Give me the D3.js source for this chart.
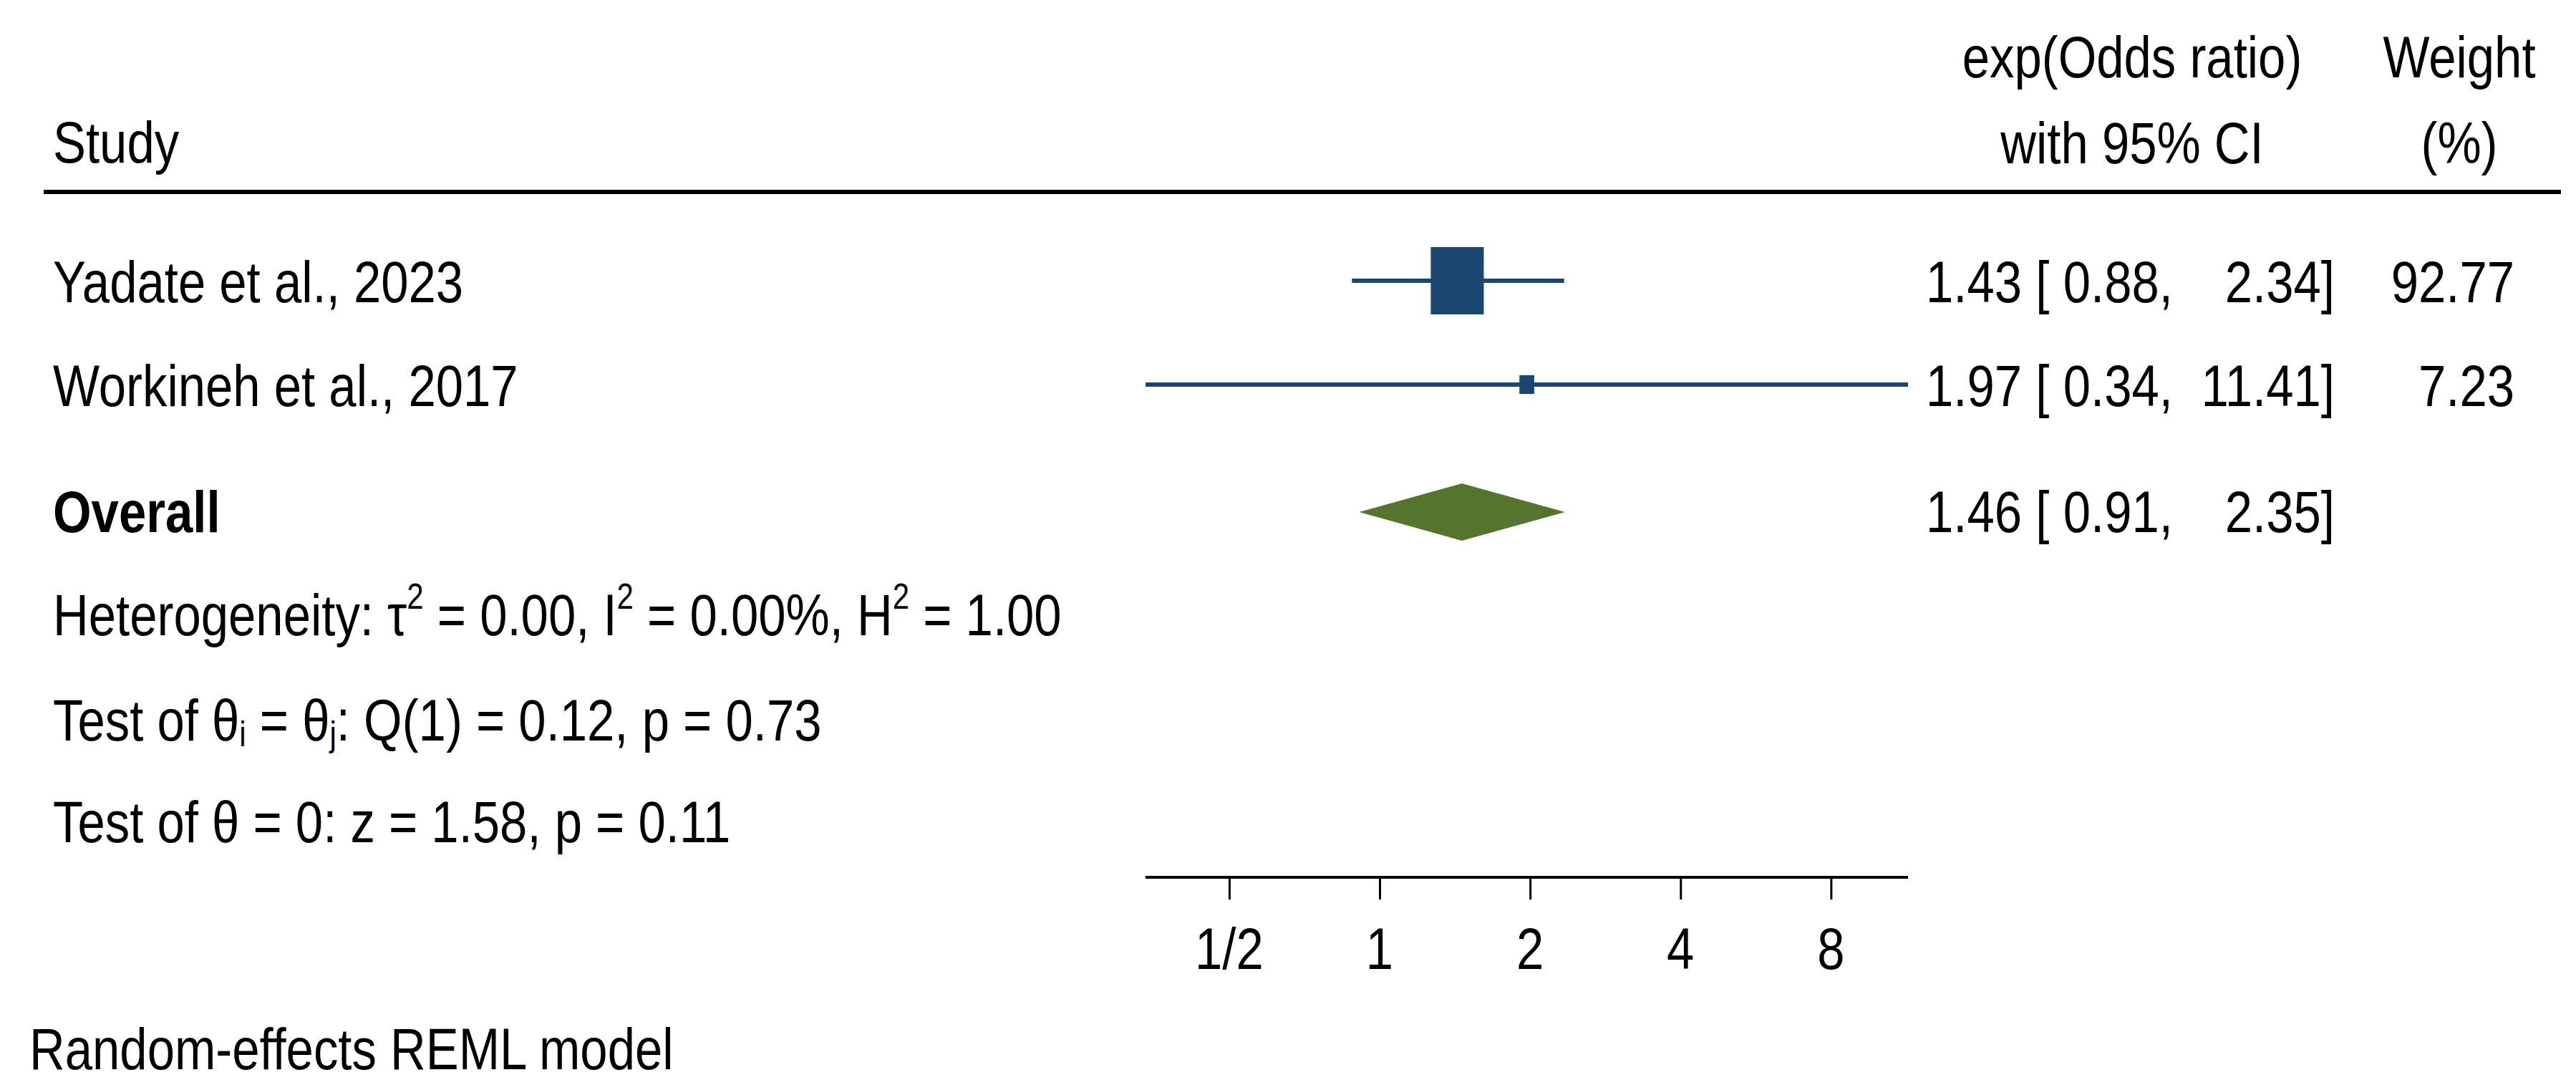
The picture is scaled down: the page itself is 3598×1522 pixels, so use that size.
<!DOCTYPE html>
<html>
<head>
<meta charset="utf-8">
<script src="https://cdn.jsdelivr.net/npm/d3@7"></script>
<style>
  html, body { margin: 0; padding: 0; background: #fff; }
  svg { display: block; font-family: "Liberation Sans", Arial, sans-serif; }
</style>
</head>
<body>
<div id="chart"></div>
<script>
const studies = ["Yadate et al., 2023", "Workineh et al., 2017"];
const estimates = [1.43, 1.97];
const lowers = [0.88, 0.34];
const uppers = [2.34, 11.41];
const weights = [92.77, 7.23];
const overall = { est: 1.46, lo: 0.91, hi: 2.35 };
const tickValues = [0.5, 1, 2, 4, 8];
const tickLabels = ["1/2", "1", "2", "4", "8"];

const width = 3598, height = 1522;
const navy = "#1a476f", olive = "#55752f";
const fs = 82, sx = 0.84;

const svg = d3.select("#chart").append("svg")
  .attr("width", width).attr("height", height);

const x = d3.scaleLog().base(2).domain([0.34, 11.41]).range([1600, 2665]);
const boxW = d3.scaleSqrt().domain([0, 92.77]).range([0, 74]);
const rowY = d3.scalePoint().domain(studies.concat(["Overall"])).range([392, 715]);
rowY.domain(studies.concat(["Overall"]));
const yOf = k => ({ "Yadate et al., 2023": 392, "Workineh et al., 2017": 537, "Overall": 715 })[k];

function txt(px, py, s, anchor, bold) {
  return svg.append("text")
    .attr("transform", `translate(${px},${py}) scale(${sx},1)`)
    .attr("text-anchor", anchor || "start")
    .attr("font-size", fs)
    .attr("font-weight", bold ? "bold" : "normal")
    .attr("fill", "#000")
    .text(s);
}

// headers
txt(74, 227, "Study");
txt(2978, 108, "exp(Odds ratio)", "middle");
txt(2978, 228, "with 95% CI", "middle");
txt(3435, 108, "Weight", "middle");
txt(3435, 228, "(%)", "middle");
svg.append("line").attr("x1", 61).attr("x2", 3577).attr("y1", 268).attr("y2", 268)
  .attr("stroke", "#000").attr("stroke-width", 6);

// studies
studies.forEach((s, i) => {
  const cy = yOf(s);
  txt(74, cy + 30, s);
  svg.append("line").attr("x1", x(lowers[i])).attr("x2", x(uppers[i]))
    .attr("y1", cy).attr("y2", cy).attr("stroke", navy).attr("stroke-width", 6);
  const w = boxW(weights[i]), h = w * 1.27;
  svg.append("rect").attr("x", x(estimates[i]) - w / 2).attr("y", cy - h / 2)
    .attr("width", w).attr("height", h).attr("fill", navy);
  txt(2690, cy + 30, estimates[i].toFixed(2) + " [");
  txt(3035, cy + 30, lowers[i].toFixed(2) + ",", "end");
  txt(3261, cy + 30, uppers[i].toFixed(2) + "]", "end");
  txt(3512, cy + 30, weights[i].toFixed(2), "end");
});

// overall
const oy = yOf("Overall");
txt(74, oy + 28, "Overall", "start", true);
svg.append("path")
  .attr("d", `M${x(overall.lo)},${oy} L${x(overall.est)},${oy - 40} L${x(overall.hi)},${oy} L${x(overall.est)},${oy + 40} Z`)
  .attr("fill", olive);
txt(2690, oy + 28, overall.est.toFixed(2) + " [");
txt(3035, oy + 28, overall.lo.toFixed(2) + ",", "end");
txt(3261, oy + 28, overall.hi.toFixed(2) + "]", "end");

// statistics
const sup = t => t.append("tspan").attr("font-size", 50).attr("baseline-shift", "75%");
let t = txt(74, 887, "Heterogeneity: τ");
sup(t).text("2");
t.append("tspan").text(" = 0.00, I");
sup(t).text("2");
t.append("tspan").text(" = 0.00%, H");
sup(t).text("2");
t.append("tspan").text(" = 1.00");

t = txt(74, 1034, "Test of θ");
t.append("tspan").attr("font-size", 50).attr("baseline-shift", "-15%").text("i");
t.append("tspan").text(" = θ");
t.append("tspan").attr("font-size", 50).attr("baseline-shift", "-15%").text("j");
t.append("tspan").text(": Q(1) = 0.12, p = 0.73");

txt(74, 1176, "Test of θ = 0: z = 1.58, p = 0.11");

// axis
const axis = svg.append("g").attr("transform", "translate(0,1225)")
  .call(d3.axisBottom(x).tickValues(tickValues).tickSize(31)
    .tickFormat((d, i) => tickLabels[i]));
axis.select(".domain").attr("stroke", "#000").attr("stroke-width", 4)
  .attr("d", `M${x.range()[0]},0H${x.range()[1]}`);
axis.selectAll(".tick line").attr("stroke", "#000").attr("stroke-width", 3);
axis.selectAll(".tick text").remove();
tickValues.forEach((v, i) => txt(x(v), 1353, tickLabels[i], "middle"));

txt(41, 1493, "Random-effects REML model");
</script>
</body>
</html>
